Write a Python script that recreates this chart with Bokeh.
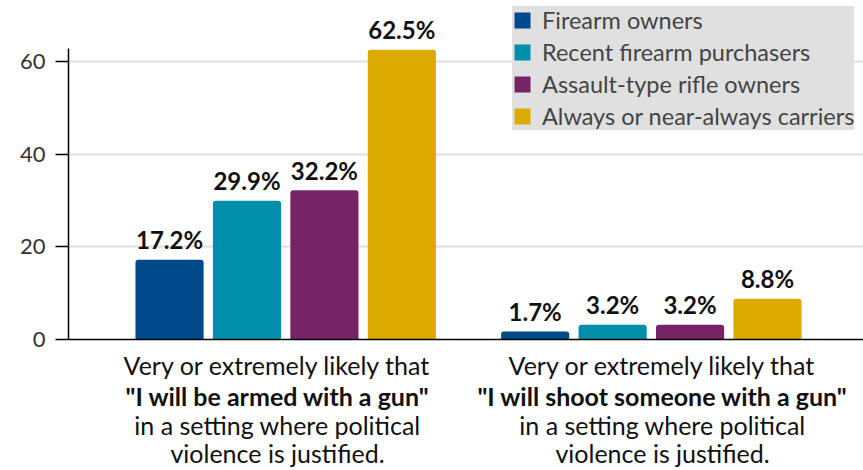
from bokeh.plotting import figure
from bokeh.models import Range1d, FixedTicker, ColumnDataSource, LinearAxis
from bokeh.core.properties import value
from bokeh.embed import file_html
from bokeh.resources import INLINE

# ---- data ----
series_names = ["Firearm owners", "Recent firearm purchasers",
                "Assault-type rifle owners", "Always or near-always carriers"]
series_colors = ["#00498a", "#008fab", "#772368", "#dcaa00"]
firearm_owners = [17.2, 1.7]
recent_purchasers = [29.9, 3.2]
assault_rifle_owners = [32.2, 3.2]
always_carriers = [62.5, 8.8]
category_lines = [
    ["Very or extremely likely that", '"I will be armed with a gun"',
     "in a setting where political", "violence is justified."],
    ["Very or extremely likely that", '"I will shoot someone with a gun"',
     "in a setting where political", "violence is justified."],
]
y_ticks = [0, 20, 40, 60]

all_series = [firearm_owners, recent_purchasers, assault_rifle_owners, always_carriers]

# ---- layout constants ----
GROUP_STEP = 4.722
BAR_W = 0.88
FONT = "Lato"

p = figure(width=863, height=470, output_backend="svg", toolbar_location=None,
           x_range=Range1d(-1.305, 8.962), y_range=Range1d(0, 73.1),
           min_border_left=68, min_border_right=0, min_border_top=0,
           min_border_bottom=130)
p.outline_line_color = None
p.background_fill_color = "white"

for s_idx, (name, color, vals) in enumerate(zip(series_names, series_colors, all_series)):
    xs = [g * GROUP_STEP + s_idx for g in range(len(vals))]
    src = ColumnDataSource(dict(x=xs, top=vals,
                                lab=[f"{v:.1f}%" for v in vals]))
    p.vbar(x="x", top="top", width=BAR_W, bottom=0, source=src,
           fill_color=color, line_color=None, border_radius=(3, 3, 0, 0),
           legend_label=name)
    p.text(x="x", y="top", text="lab", source=src, y_offset=-20,
           text_align="center", text_baseline="alphabetic",
           text_font=value(FONT), text_font_style="bold",
           text_font_size="24px", text_color="#111111")

# y axis
p.yaxis.ticker = FixedTicker(ticks=y_ticks)
p.yaxis.bounds = (0, 62.8)
p.yaxis.axis_line_color = "black"
p.yaxis.axis_line_width = 1.5
p.yaxis.major_tick_line_color = "black"
p.yaxis.major_tick_line_width = 1.5
p.yaxis.major_tick_out = 13
p.yaxis.major_tick_in = 0
p.yaxis.minor_tick_line_color = None
p.yaxis.major_label_standoff = 10
p.yaxis.major_label_text_font = FONT
p.yaxis.major_label_text_font_size = "22px"
p.yaxis.major_label_text_color = "#333333"

# x axes: one per line of the category labels
label_x = [1.395, 1.395 + GROUP_STEP + 0.25]
xaxes = [p.xaxis[0]]
for _ in range(3):
    ax = LinearAxis()
    p.add_layout(ax, "below")
    xaxes.append(ax)
standoffs = [10, -2, -4, -5]
for i, ax in enumerate(xaxes):
    ax.ticker = FixedTicker(ticks=label_x)
    ax.major_label_overrides = {label_x[g]: category_lines[g][i] for g in range(2)}
    ax.major_tick_line_color = None
    ax.minor_tick_line_color = None
    ax.major_tick_out = 0
    ax.major_tick_in = 0
    ax.major_label_standoff = standoffs[i]
    ax.major_label_text_font = FONT
    ax.major_label_text_font_size = "25px"
    ax.major_label_text_font_style = "bold" if i == 1 else "normal"
    ax.major_label_text_color = "#111111"
    if i == 0:
        ax.axis_line_color = "black"
        ax.axis_line_width = 1.5
    else:
        ax.axis_line_color = None

p.xgrid.grid_line_color = None
p.ygrid.ticker = FixedTicker(ticks=[20, 40, 60])
p.ygrid.grid_line_color = "#e0e0e0"
p.ygrid.grid_line_width = 2

# legend
lg = p.legend[0]
lg.location = (444, 209)
lg.margin = 0
lg.padding = 16
lg.spacing = 4
lg.glyph_width = 20
lg.glyph_height = 20
lg.label_standoff = 10
lg.label_text_font = FONT
lg.label_text_font_size = "23.5px"
lg.label_text_color = "#444444"
lg.background_fill_color = "#e0e0e0"
lg.background_fill_alpha = 1
lg.border_line_color = None

open("out.html", "w").write(file_html(p, INLINE))
